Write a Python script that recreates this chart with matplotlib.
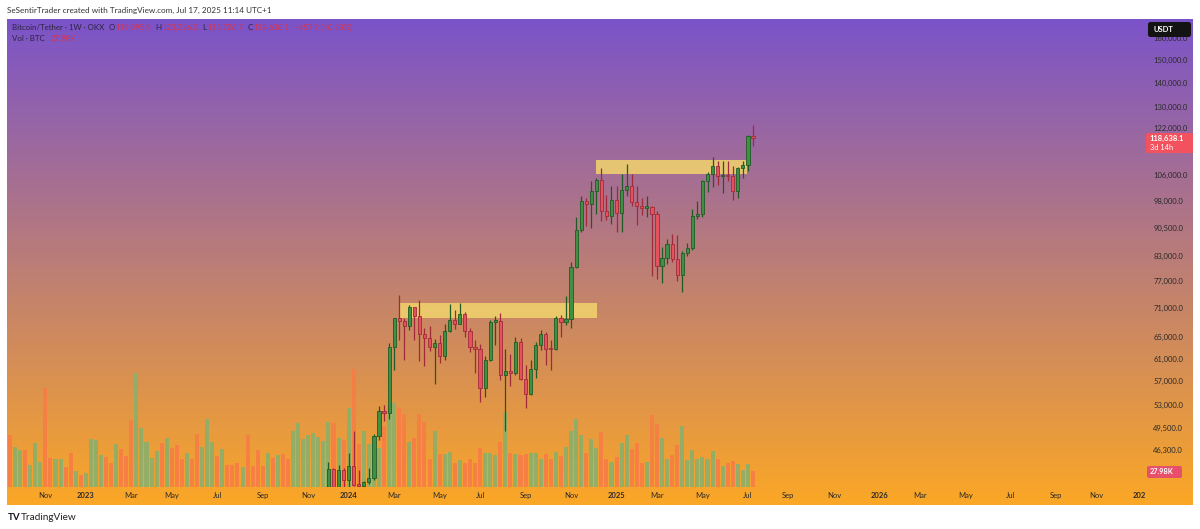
import numpy as np
import pandas as pd
import matplotlib
matplotlib.use('Agg')
import matplotlib.pyplot as plt
import matplotlib.dates as mdates
import matplotlib.transforms as mtransforms
from matplotlib.colors import LinearSegmentedColormap
from matplotlib.patches import Rectangle, FancyBboxPatch
from matplotlib.ticker import NullLocator, NullFormatter, FuncFormatter

plt.rcParams['font.family'] = ['Lato', 'DejaVu Sans']

W, H = 1200, 529

# ---- data ----
first_week = '2022-09-19'    # first weekly volume bar
first_candle = '2023-12-04'  # first candle high enough to show on the price scale

# weekly volume, thousand BTC
volume = [90.4, 70.6, 64.8, 64.8, 37.9, 77.6, 43.8, 173.8, 51.3, 48.4,
          49.6, 35.6, 58.9, 28.0, 21.0, 23.9, 83.4, 81.7, 55.4, 52.5,
          42.6, 74.7, 65.9, 54.3, 117.3, 200.0, 103.8, 79.3, 50.2, 63.0,
          76.4, 86.3, 68.8, 73.5, 48.4, 58.9, 48.4, 92.2, 70.6, 118.4,
          78.8, 54.3, 67.1, 37.9, 37.9, 41.4, 35.6, 90.4, 36.8, 64.8,
          36.8, 60.1, 50.2, 55.4, 57.2, 48.4, 98.0, 112.6, 83.4, 90.4,
          95.1, 88.1, 80.5, 113.8, 111.4, 86.3, 82.3, 138.8, 205.9, 74.7,
          98.0, 74.7, 89.3, 68.8, 106.8, 135.9, 147.6, 138.8, 128.3, 78.8,
          86.3, 128.3, 113.8, 48.4, 98.0, 57.2, 57.2, 61.3, 42.6, 47.3,
          42.6, 49.6, 42.6, 68.8, 58.9, 60.1, 55.4, 78.8, 131.3, 58.9,
          57.2, 55.4, 57.2, 58.9, 60.1, 48.4, 57.2, 48.4, 61.8, 54.3,
          70.6, 98.0, 119.6, 90.4, 60.1, 83.4, 68.8, 96.3, 49.6, 43.8,
          53.1, 77.6, 90.4, 67.1, 76.4, 41.4, 43.8, 125.4, 109.7, 85.8,
          49.6, 55.4, 72.9, 106.8, 46.7, 64.2, 49.6, 53.1, 48.4, 63.0,
          48.4, 36.8, 41.4, 45.5, 39.7, 29.2, 39.7, 27.98]

# up/down colour of the volume bars before the first visible candle
early_dir = ('duuduuuddu' 'udduduuuud' 'duddduuuuu' 'dudddudduu'
             'ududdduddd' 'dududduuuu' 'uuu')

opens = [39970, 43770, 41370, 43600, 42280, 44180, 41730, 41580, 42030, 42580,
         48300, 52130, 51730, 63100, 68950, 68380, 67210, 71280, 69360, 65660,
         64940, 63120, 63900, 61480, 66270, 68500, 67750, 69650, 66200, 63200,
         62700, 55850, 60800, 68160, 68250, 58100, 58700, 58450, 64200, 57300,
         54850, 59150, 63600, 65600, 62850, 62750, 68900, 68000, 68750, 80400,
         89850, 97900, 97200, 101100, 104500, 95200, 93700, 98400, 94500, 101300,
         102600, 97700, 96500, 96100, 96250, 94300, 80700, 82600, 86080, 82400,
         78400, 83750, 85100, 93750, 94300, 104100, 106400, 109000, 105600, 105700,
         105600, 100900, 108350, 109200, 119095.9]
highs = [44700, 43800, 44300, 43800, 45880, 49000, 43580, 42200, 43880, 48600,
         52800, 52980, 64000, 69000, 73780, 68950, 71770, 71300, 72800, 66900,
         67200, 64750, 65500, 67700, 71950, 70600, 72000, 70200, 66800, 64500,
         63800, 61400, 68400, 69400, 70050, 62700, 61800, 65000, 64950, 59800,
         60650, 64100, 66500, 66000, 64500, 69400, 69500, 73600, 81500, 93500,
         99600, 98900, 104000, 105200, 108350, 99950, 102700, 102500, 106400, 109600,
         106400, 102500, 98800, 99500, 96500, 95000, 85300, 87450, 88800, 88500,
         84300, 86500, 95750, 97900, 104300, 107100, 111900, 110700, 110500, 110500,
         108900, 108500, 110500, 119500, 123226.0]
lows = [39960, 40200, 40530, 41300, 40750, 41500, 40280, 38550, 41800, 42260,
        47700, 50530, 50900, 59000, 64500, 60770, 66400, 64500, 60600, 59600,
        62400, 56550, 60180, 60750, 66050, 66600, 67600, 65050, 62250, 58400,
        53500, 54300, 60600, 63450, 57100, 49100, 56100, 58100, 57200, 52550,
        54600, 57500, 62650, 59800, 58900, 62500, 65000, 67500, 66800, 80200,
        89400, 90800, 90500, 94200, 92200, 92500, 91400, 89300, 89250, 99500,
        96700, 91200, 94100, 93400, 78250, 77500, 76600, 81100, 81600, 77100,
        74500, 83100, 84500, 92800, 93400, 100700, 102100, 103000, 100400, 104100,
        98200, 99000, 105100, 107450, 115726.7]
closes = [43770, 41370, 43600, 42280, 44180, 41730, 41580, 42030, 42580, 48300,
          52130, 51730, 63100, 68950, 68380, 67210, 71280, 69360, 65660, 64940,
          63120, 63900, 61480, 66270, 68500, 67750, 69650, 66200, 63200, 62700,
          55850, 60800, 68160, 68250, 58100, 58700, 58450, 64200, 57300, 54850,
          59150, 63600, 65600, 62850, 62750, 68900, 68000, 68750, 80400, 89850,
          97900, 97200, 101100, 104500, 95200, 93700, 98400, 94500, 101300, 102600,
          97700, 96500, 96100, 96250, 94300, 80700, 82600, 86080, 82400, 78400,
          83750, 85100, 93750, 94300, 104100, 106400, 109000, 105600, 105700, 105600,
          100900, 108350, 109200, 119100, 118638.1]

# 114,000 sits under the last-price badge, so it is left out
price_ticks = [160000, 150000, 140000, 130000, 122000, 106000, 98000,
               90500, 83000, 77000, 71000, 65000, 61000, 57000, 53000, 49500, 46300]

# yellow zones
zone_start = ['2024-03-15', '2024-12-12']
zone_end = ['2024-12-13', '2025-07-09']
zone_low = [68900, 106300]
zone_high = [72100, 110900]

# ---- positions ----
weeks = pd.date_range(first_week, periods=len(volume), freq='7D')
xc = mdates.date2num(weeks) + 3.5
n0 = (pd.Timestamp(first_candle) - pd.Timestamp(first_week)).days // 7
cx = xc[n0:]
o, h, l, c = (np.array(v, dtype=float) for v in (opens, highs, lows, closes))
up = c >= o
vol_up = [ch == 'u' for ch in early_dir] + list(up)

fig = plt.figure(figsize=(W / 100, H / 100), dpi=100)
fig.patch.set_facecolor('white')
# pixel coordinates, origin top-left
pix = mtransforms.Affine2D().scale(1 / W, -1 / H).translate(0, 1) + fig.transFigure


def box(x0, y0, x1, y1):
    return [x0 / W, 1 - y1 / H, (x1 - x0) / W, (y1 - y0) / H]


# gradient panel
bg = fig.add_axes(box(7, 19, 1193, 505))
grad = np.linspace(0, 1, 256).reshape(-1, 1)
cmap = LinearSegmentedColormap.from_list('tv', ['#7B53C9', '#FBA726'])
bg.imshow(grad, aspect='auto', cmap=cmap, extent=(0, 1, 0, 1))
bg.set_axis_off()

vax = fig.add_axes(box(7, 19, 1140, 487))
ax = fig.add_axes(box(7, 19, 1140, 487), sharex=vax)
for a in (vax, ax):
    a.patch.set_visible(False)
    for s in a.spines.values():
        s.set_visible(False)

# volume
vcol = ['#8DAF6A' if u else '#F77E45' for u in vol_up]
vax.bar(xc, volume, width=5.6, color=vcol, alpha=0.92, linewidth=0)
vax.set_ylim(0, 468 * 1.75)
vax.set_axis_off()

# price
ax.set_yscale('log')
ax.set_ylim(41420, 169600)
ax.set_xlim(xc[0] - 4.2, xc[0] + 1565)

for s0, s1, lo, hi in zip(zone_start, zone_end, zone_low, zone_high):
    x0 = mdates.date2num(pd.Timestamp(s0))
    x1 = mdates.date2num(pd.Timestamp(s1))
    ax.add_patch(Rectangle((x0, lo), x1 - x0, hi - lo, fc='#F2D46C', ec='none',
                           alpha=0.85, zorder=2))

face = np.where(up, '#3F8F45', '#E3525D')
edge = np.where(up, '#1F5C25', '#A02A3A')
ax.vlines(cx, l, h, colors=edge, linewidth=0.9, zorder=3)
body = np.maximum(np.abs(c - o), c * 0.004)
ax.bar(cx, body, bottom=np.minimum(o, c), width=4.4, color=face,
       edgecolor=edge, linewidth=0.6, zorder=4)

# price scale
ax.yaxis.tick_right()
ax.set_yticks(price_ticks)
ax.yaxis.set_minor_locator(NullLocator())
ax.yaxis.set_minor_formatter(NullFormatter())
ax.yaxis.set_major_formatter(FuncFormatter(lambda v, p: f'{v:,.1f}'))
ax.tick_params(axis='y', length=0, pad=9.5, labelsize=5.5, labelcolor='#2a2a2a')

# time scale
tick_months = pd.date_range('2022-11-01', '2026-11-01', freq='2MS')
tick_x = []
for m in tick_months:
    first_mon = m + pd.Timedelta(days=(7 - m.weekday()) % 7)
    tick_x.append(mdates.date2num(first_mon) + 3.5)
tick_lab = [str(m.year) if m.month == 1 else m.strftime('%b') for m in tick_months]
ax.set_xticks(tick_x)
ax.set_xticklabels(tick_lab)
ax.tick_params(axis='x', length=0, pad=3.8, labelsize=5.5, labelcolor='#2a2a2a')
for t, m in zip(ax.get_xticklabels(), tick_months):
    if m.month == 1:
        t.set_fontweight('bold')
fig.text(1139, 496, '202', transform=pix, ha='center', va='center',
         fontsize=5.5, fontweight='bold', color='#2a2a2a')


def badge(x0, y0, x1, y1, color, r=2):
    fig.add_artist(FancyBboxPatch((x0, y0), x1 - x0, y1 - y0,
                                  boxstyle=f'round,pad=0,rounding_size={r}',
                                  fc=color, ec='none', transform=pix, zorder=5))


badge(1148, 22, 1191, 37, '#131313', r=2.5)
fig.text(1154, 29.5, 'USDT', transform=pix, va='center', fontsize=5.5,
         fontweight='bold', color='white', zorder=6)
badge(1146, 133, 1193, 153, '#F2525E', r=1)
fig.text(1150, 138.5, '118,638.1', transform=pix, va='center', fontsize=5.5,
         fontweight='bold', color='white', zorder=6)
fig.text(1150, 148, '3d 14h', transform=pix, va='center', fontsize=5.3,
         color='white', zorder=6)
badge(1147, 466, 1182, 478, '#E84F6A', r=2)
fig.text(1150, 472, '27.98K', transform=pix, va='center', fontsize=5.3,
         fontweight='bold', color='white', zorder=6)

# header and legend
fig.text(7, 10, 'SeSentirTrader created with TradingView.com, Jul 17, 2025 11:14 UTC+1',
         transform=pix, va='center', fontsize=5.9, color='#333333')

dark = '#2b2440'
red = '#D8334A'


def chain(x, y, parts, size=5.7):
    prev = fig.text(x, y, parts[0][0], transform=pix, va='center',
                    fontsize=size, color=parts[0][1])
    for s, col, gap in parts[1:]:
        prev = ax.annotate(s, xy=(1, 0.5), xycoords=prev, xytext=(gap, 0),
                           textcoords='offset points', va='center', ha='left',
                           fontsize=size, color=col, annotation_clip=False)


chain(12, 27, [('Bitcoin/Tether · 1W · OKX', dark),
               ('O', dark, 3.2), ('119,095.9', red, 0.4),
               ('H', dark, 3.2), ('123,226.0', red, 0.4),
               ('L', dark, 3.2), ('115,726.7', red, 0.4),
               ('C', dark, 3.2), ('118,638.1', red, 0.4),
               ('−457.9 (−0.38%)', red, 3.2)])
chain(12, 38.5, [('Vol · BTC', dark), ('27.98K', red, 4)])

# footer
fig.text(8, 517, 'TV', transform=pix, va='center', fontsize=7, fontweight='bold',
         color='#131722')
fig.text(21, 517, 'TradingView', transform=pix, va='center', fontsize=7.2,
         color='#222222')

fig.savefig('out.png', dpi=100)
